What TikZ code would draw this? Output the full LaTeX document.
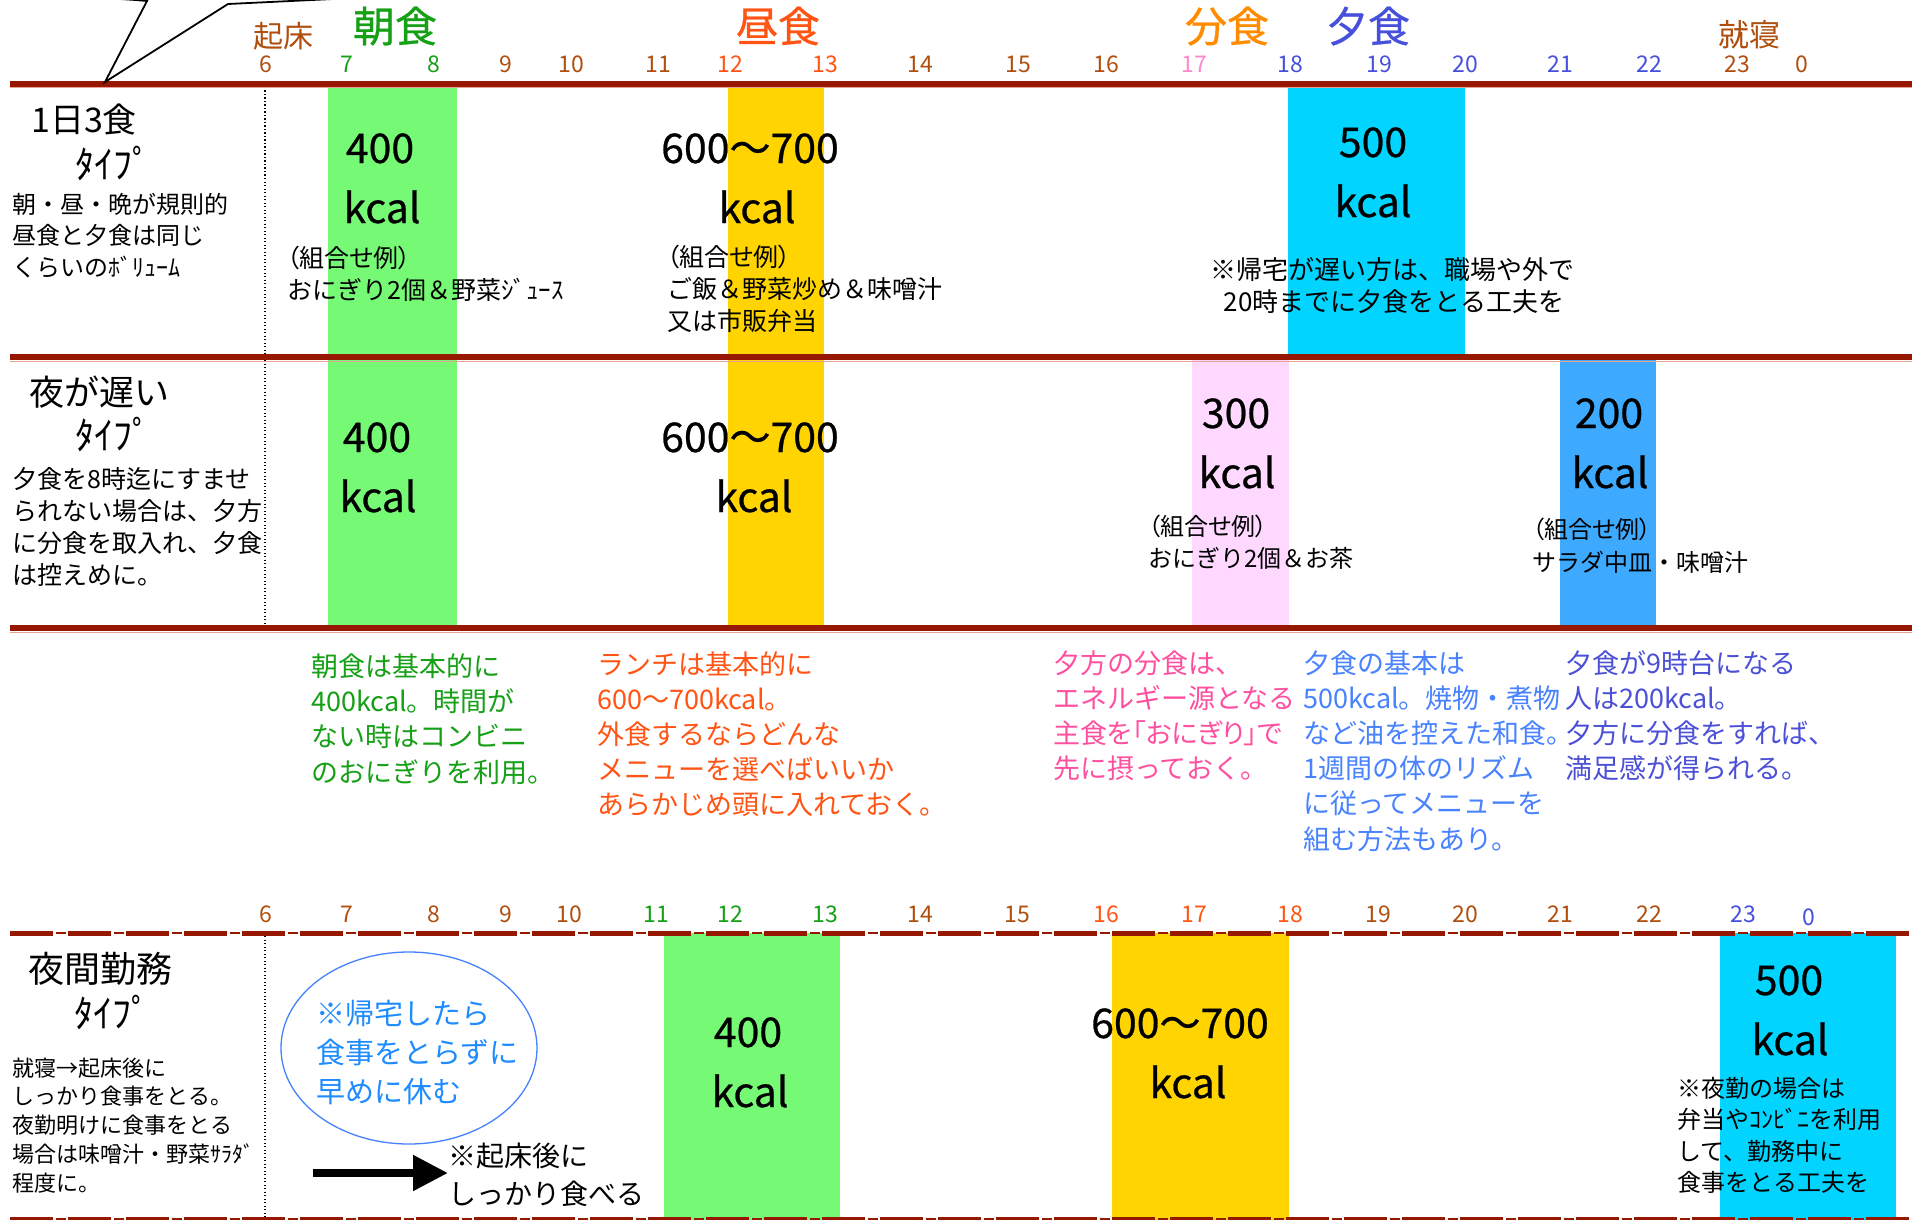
\documentclass[tikz,border=0pt]{standalone}
\usepackage{fontspec}
\setmainfont{Noto Sans CJK JP}
\newfontfamily\jpp{Noto Sans CJK JP}[RawFeature=+palt]
\newfontfamily\bignum{Noto Sans CJK JP}[FakeBold=0.6]
\usetikzlibrary{arrows.meta,shapes.geometric}
\definecolor{lred}{RGB}{150,24,0}
\definecolor{lshadow}{RGB}{235,160,150}
\definecolor{brn}{RGB}{176,78,14}
\definecolor{grn}{RGB}{22,160,22}
\definecolor{ored}{RGB}{255,84,20}
\definecolor{orng}{RGB}{255,140,0}
\definecolor{ublue}{RGB}{70,80,220}
\definecolor{pnk}{RGB}{255,136,204}
\definecolor{pnote}{RGB}{255,80,160}
\definecolor{bnote}{RGB}{72,130,255}
\definecolor{vnote}{RGB}{75,80,215}
\definecolor{ebl}{RGB}{30,140,255}
\definecolor{eline}{RGB}{70,130,255}
\definecolor{bgreen}{RGB}{118,250,118}
\definecolor{byellow}{RGB}{255,212,0}
\definecolor{bcyan}{RGB}{0,212,255}
\definecolor{bpink}{RGB}{255,216,255}
\definecolor{bblue}{RGB}{62,170,255}
\tikzset{
  hr/.style={font=\fontsize{23}{23}\selectfont, anchor=base, inner sep=0pt},
  big/.style={font=\bignum\fontsize{41}{41}\selectfont, anchor=base, inner sep=0pt},
  meal/.style={font=\bignum\fontsize{42}{42}\selectfont, anchor=base, inner sep=0pt},
  ttl/.style={font=\fontsize{35}{35}\selectfont, anchor=base west, inner sep=0pt},
  tipo/.style={font=\fontsize{38}{38}\selectfont, anchor=base, inner sep=0pt},
  desc/.style={font=\fontsize{24}{24}\selectfont, anchor=base west, inner sep=0pt},
  ex/.style={font=\fontsize{25}{25}\selectfont, anchor=base west, inner sep=0pt},
  exc/.style={font=\fontsize{26}{26}\selectfont, anchor=base, inner sep=0pt},
  note/.style={font=\fontsize{27}{27}\selectfont, anchor=base west, inner sep=0pt},
  solidline/.style={lred, line width=5.5pt},
  shadowline/.style={lshadow, line width=1pt},
}
\newcommand{\tblock}[6]{\foreach \tline [count=\ti] in {#6} {\node[#5] (#1\ti) at (#2, #3+\ti*#4-#4) {\tline};}}
\begin{document}
\begin{tikzpicture}[x=1pt,y=-1pt]
\useasboundingbox (0,0) rectangle (1924,1220);
\fill[white] (0,0) rectangle (1924,1220);

% colour bands
\fill[bgreen] (328,84) rectangle (457,628);
\fill[byellow] (728,84) rectangle (824,628);
\fill[bcyan] (1288,84) rectangle (1465,357);
\fill[bpink] (1192,357) rectangle (1289,628);
\fill[bblue] (1560,357) rectangle (1656,628);
\fill[bgreen] (664,933) rectangle (840,1220);
\fill[byellow] (1112,933) rectangle (1289,1220);
\fill[bcyan] (1720,933) rectangle (1896,1220);

% dotted separators
\draw[line width=1.3pt, dash pattern=on 1.3pt off 2.2pt] (265,87) -- (265,628);
\draw[line width=1.3pt, dash pattern=on 1.3pt off 2.2pt] (265,936) -- (265,1220);

% solid lines
\foreach \yy in {84,357,628} {
  \draw[shadowline] (10,\yy+4) -- (1912,\yy+4);
  \draw[solidline] (10,\yy) -- (1912,\yy);
}
% dashed lines
\foreach \yy in {933,1219} {
  \draw[lred, line width=5pt, dash pattern=on 43pt off 15pt] (10,\yy) -- (1912,\yy);
  \draw[lred, line width=1.5pt, dash pattern=on 10pt off 48pt, dash phase=12pt] (10,\yy) -- (1912,\yy);
}

% callout tail
\draw[line width=1.8pt, fill=white] (120,-1) .. controls (136,0) .. (147,1) -- (105,82) -- (228,4) .. controls (280,1) .. (333,-1);

% headers
\node[font=\fontsize{30}{30}\selectfont, anchor=base, inner sep=0pt, text=brn] (wake) at (283,48) {起床};
\node[meal, text=grn] (bfast) at (395,42) {朝食};
\node[meal, text=ored] (lunch) at (778,42) {昼食};
\node[meal, text=orng] (split) at (1227,42) {分食};
\node[meal, text=ublue] (dinner) at (1368,42) {夕食};
\node[font=\fontsize{31}{31}\selectfont, anchor=base, inner sep=0pt, text=brn] (sleep) at (1749,47) {就寝};

\foreach \h/\xx/\cc [count=\i] in {6/266/brn,7/347/grn,8/434/grn,9/506/brn,10/571/brn,11/658/brn,12/730/ored,13/825/ored,14/920/brn,15/1018/brn,16/1106/brn,17/1194/pnk,18/1290/ublue,19/1379/ublue,20/1465/ublue,21/1560/ublue,22/1649/ublue,23/1737/brn,0/1802/brn}
  \node[hr, text=\cc] (ta\i) at (\xx,73) {\h};
\foreach \h/\xx/\yy/\cc [count=\i] in {6/266/922/brn,7/347/922/brn,8/434/922/brn,9/506/922/brn,10/569/922/brn,11/656/922/grn,12/730/922/grn,13/825/922/grn,14/920/922/brn,15/1017/922/brn,16/1106/922/ored,17/1194/922/ored,18/1290/922/ored,19/1378/922/brn,20/1465/922/brn,21/1560/922/brn,22/1649/922/brn,23/1743/922/ublue,0/1809/925/ublue}
  \node[hr, text=\cc] (tb\i) at (\xx,\yy) {\h};

% ---- row 1 ----
\node[ttl, font=\fontsize{34}{34}\selectfont] (r1title) at (31,132) {1日3食};
\node[tipo] (r1type) at (113,178) {ﾀｲﾌﾟ};
\tblock{r1d}{12}{213}{31.5}{desc}{朝・昼・晩が規則的,昼食と夕食は同じ,くらいのﾎﾞﾘｭｰﾑ}
\node[big] (r1a) at (380,163) {400};
\node[big] (r1b) at (382,223) {kcal};
\node[ex] (r1ex1) at (287,267) {\jpp （組合せ例）};
\node[ex] (r1ex2) at (287,299) {おにぎり2個＆野菜ｼﾞｭｰｽ};
\node[big] (r1c) at (750,163) {600～700};
\node[big] (r1d) at (757,223) {kcal};
\tblock{r1y}{667}{266}{32}{ex}{{\jpp （組合せ例）},ご飯＆野菜炒め＆味噌汁,又は市販弁当}
\node[big] (r1e) at (1373,157) {500};
\node[big] (r1f) at (1373,217) {kcal};
\node[exc] (r1n1) at (1392,279) {※帰宅が遅い方は、職場や外で};
\node[exc] (r1n2) at (1394,311) {20時までに夕食をとる工夫を};

% ---- row 2 ----
\node[ttl] (r2title) at (29,405) {夜が遅い};
\node[tipo] (r2type) at (113,449) {ﾀｲﾌﾟ};
\tblock{r2d}{12}{488}{32.3}{ex}{夕食を8時迄にすませ,られない場合は、夕方,に分食を取入れ、夕食,は控えめに。}
\node[big] (r2a) at (377,452) {400};
\node[big] (r2b) at (378,512) {kcal};
\node[big] (r2c) at (750,452) {600～700};
\node[big] (r2d) at (754,512) {kcal};
\node[big] (r2e) at (1236,428) {300};
\node[big] (r2f) at (1237,488) {kcal};
\node[ex, font=\fontsize{24}{24}\selectfont] (r2ex1) at (1148,535) {\jpp （組合せ例）};
\node[ex, font=\fontsize{24}{24}\selectfont] (r2ex2) at (1148,567) {おにぎり2個＆お茶};
\node[big] (r2g) at (1609,428) {200};
\node[big] (r2h) at (1610,488) {kcal};
\node[ex, font=\fontsize{24}{24}\selectfont] (r2ex3) at (1532,538) {\jpp （組合せ例）};
\node[ex, font=\fontsize{24}{24}\selectfont] (r2ex4) at (1532,571) {サラダ中皿・味噌汁};

% ---- notes ----
\tblock{ng}{311}{676}{35.4}{note, text=grn}{朝食は基本的に,400kcal。時間が,ない時はコンビニ,のおにぎりを利用。}
\tblock{no}{597}{674}{35.2}{note, text=ored}{ランチは基本的に,600～700kcal。,外食するならどんな,メニューを選べばいいか,あらかじめ頭に入れておく。}
\tblock{np}{1053}{673}{35.2}{note, text=pnote}{夕方の分食は、,エネルギー源となる,{\jpp 主食を「おにぎり」で},先に摂っておく。}
\tblock{nb}{1303}{673}{35.2}{note, text=bnote}{夕食の基本は,500kcal。焼物・煮物,など油を控えた和食。,1週間の体のリズム,に従ってメニューを,組む方法もあり。}
\tblock{nv}{1565}{673}{35.2}{note, text=vnote}{夕食が9時台になる,人は200kcal。,夕方に分食をすれば、,満足感が得られる。}

% ---- row 3 ----
\node[ttl, font=\fontsize{36}{36}\selectfont] (r3title) at (28,982) {夜間勤務};
\node[tipo] (r3type) at (112,1027) {ﾀｲﾌﾟ};
\tblock{r3d}{12}{1076}{28.8}{desc, font=\fontsize{22}{22}\selectfont}{就寝→起床後に,しっかり食事をとる。,夜勤明けに食事をとる,場合は味噌汁・野菜ｻﾗﾀﾞ,程度に。}
\node[ellipse, draw=eline, line width=1.3pt, minimum width=256pt, minimum height=192pt, inner sep=0pt] (oval) at (409,1048) {};
\tblock{ov}{316}{1024}{39}{font=\fontsize{29}{29}\selectfont, anchor=base west, inner sep=0pt, text=ebl}{※帰宅したら,食事をとらずに,早めに休む}
\coordinate (arrS) at (313,1173);
\node[note, font=\fontsize{28}{28}\selectfont] (wake1) at (448,1166) {※起床後に};
\node[note, font=\fontsize{28}{28}\selectfont] (wake2) at (448,1204) {しっかり食べる};
\draw[line width=8pt, -{Triangle[length=35pt,width=34pt]}] (arrS) -- (wake1.west |- arrS);
\node[big] (r3a) at (748,1047) {400};
\node[big] (r3b) at (750,1107) {kcal};
\node[big] (r3c) at (1180,1038) {600～700};
\node[big] (r3d) at (1188,1098) {kcal};
\node[big] (r3e) at (1789,995) {500};
\node[big] (r3f) at (1790,1055) {kcal};
\tblock{r3n}{1677}{1097}{31.5}{desc}{※夜勤の場合は,弁当やｺﾝﾋﾞﾆを利用,して、勤務中に,食事をとる工夫を}
\end{tikzpicture}
\end{document}
